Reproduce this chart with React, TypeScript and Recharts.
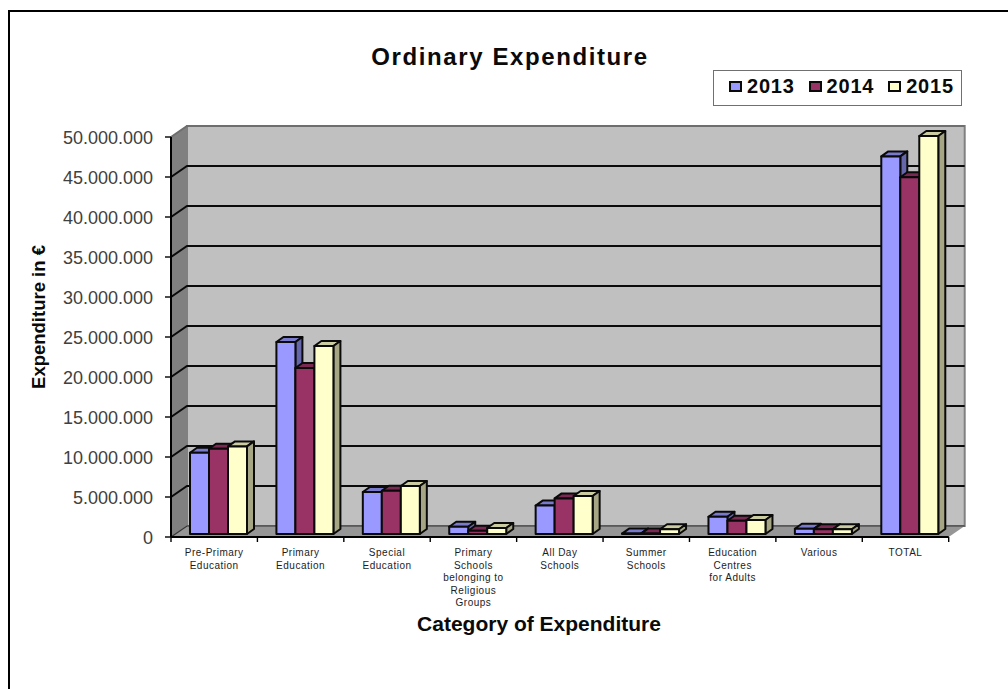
import React from "react";
import {
  BarChart,
  Bar,
  XAxis,
  YAxis,
  CartesianGrid,
  Legend,
} from "recharts";

const categories = [
  ["Pre-Primary", "Education"],
  ["Primary", "Education"],
  ["Special", "Education"],
  ["Primary", "Schools", "belonging to", "Religious", "Groups"],
  ["All Day", "Schools"],
  ["Summer", "Schools"],
  ["Education", "Centres", "for Adults"],
  ["Various"],
  ["TOTAL"],
];
const values2013 = [10150000, 24000000, 5250000, 900000, 3550000, 50000, 2150000, 650000, 47200000];
const values2014 = [10650000, 20750000, 5400000, 400000, 4450000, 50000, 1650000, 600000, 44600000];
const values2015 = [10950000, 23500000, 6000000, 750000, 4750000, 600000, 1750000, 600000, 49750000];
const yTicks = [0, 5000000, 10000000, 15000000, 20000000, 25000000, 30000000, 35000000, 40000000, 45000000, 50000000];

const data = categories.map((lines, i) => ({
  name: lines.join(" "),
  lines,
  y2013: values2013[i],
  y2014: values2014[i],
  y2015: values2015[i],
}));

// depth of the back wall and of the bars, the fake 3D look
const WALL_DX = 16;
const WALL_DY = -11;
const BAR_SHIFT_X = 4.6;
const BAR_SHIFT_Y = -3;
const BAR_DX = 7;
const BAR_DY = -5;
const FONT = "'Liberation Sans', Arial, sans-serif";

const formatDots = (v: number) => String(v).replace(/\B(?=(\d{3})+$)/g, ".");

function Bar3D(topFill: string, sideFill: string) {
  return (props: any) => {
    const x = props.x + BAR_SHIFT_X;
    const y = props.y + BAR_SHIFT_Y;
    const w = props.width;
    const h = props.height;
    const line = { stroke: "#0a0a0a", strokeWidth: 2, strokeLinejoin: "round" as const };
    return (
      <g>
        <polygon
          points={`${x},${y} ${x + BAR_DX},${y + BAR_DY} ${x + w + BAR_DX},${y + BAR_DY} ${x + w},${y}`}
          fill={topFill}
          {...line}
        />
        <polygon
          points={`${x + w},${y} ${x + w + BAR_DX},${y + BAR_DY} ${x + w + BAR_DX},${y + h + BAR_DY} ${x + w},${y + h}`}
          fill={sideFill}
          {...line}
        />
        <rect x={x} y={y} width={w} height={h} fill={props.fill} {...line} />
      </g>
    );
  };
}

// the grid sits under plain children, so the walls are drawn with its first line
function Walls({ x, y, width, height }: any) {
  const r = x + width;
  const b = y + height;
  return (
    <g>
      <rect
        x={x + WALL_DX}
        y={y + WALL_DY}
        width={width}
        height={height}
        fill="#c0c0c0"
        stroke="#808080"
        strokeWidth={2}
      />
      <polygon
        points={`${x},${y} ${x + WALL_DX},${y + WALL_DY} ${x + WALL_DX},${b + WALL_DY} ${x},${b}`}
        fill="#808080"
      />
      <polygon
        points={`${x},${b} ${r},${b} ${r + WALL_DX},${b + WALL_DY} ${x + WALL_DX},${b + WALL_DY}`}
        fill="#969696"
      />
    </g>
  );
}

function GridLine(props: any) {
  const { x1, x2, y1, index, x, y, width, height } = props;
  const isTop = Math.abs(y1 - y) < 1;
  const isBottom = Math.abs(y1 - (y + height)) < 1;
  const color = isTop ? "#6e6e6e" : isBottom ? "#333" : "#0a0a0a";
  return (
    <g key={props.key}>
      {index === 0 && <Walls x={x} y={y} width={width} height={height} />}
      <polyline
        points={`${x1},${y1} ${x1 + WALL_DX},${y1 + WALL_DY} ${x2 + WALL_DX},${y1 + WALL_DY}`}
        fill="none"
        stroke={color}
        strokeWidth={isBottom ? 1.2 : 2}
      />
    </g>
  );
}

function CategoryTick(props: any) {
  const { x, width, payload } = props;
  const y = props.y - 8;
  const band = width / categories.length;
  const lines = categories[payload.index] || [];
  const left = x - band / 2;
  return (
    <g>
      <line x1={left} x2={left} y1={y} y2={y + 5} stroke="#000" strokeWidth={1.4} />
      {payload.index === categories.length - 1 && (
        <line x1={left + band} x2={left + band} y1={y} y2={y + 5} stroke="#000" strokeWidth={1.4} />
      )}
      <text
        x={x}
        y={y + 19}
        textAnchor="middle"
        fontFamily={FONT}
        fontSize={10}
        letterSpacing={0.5}
        fill="#1c1c1c"
      >
        {lines.map((s: string, i: number) => (
          <tspan key={i} x={x} dy={i === 0 ? 0 : 12.6}>
            {s}
          </tspan>
        ))}
      </text>
    </g>
  );
}

function LegendBox({ payload }: any) {
  return (
    <div
      style={{
        boxSizing: "border-box",
        width: 249,
        height: 36,
        background: "#fff",
        border: "1.5px solid #707070",
        position: "relative",
        fontFamily: FONT,
      }}
    >
      {(payload || []).map((p: any, i: number) => (
        <div key={p.value}>
          <div
            style={{
              position: "absolute",
              boxSizing: "border-box",
              left: 15 + i * 79.6,
              top: 10,
              width: 13,
              height: 11,
              background: p.color,
              border: "2px solid #0a0a0a",
            }}
          />
          <div
            style={{
              position: "absolute",
              left: 33 + i * 79.6,
              top: 4,
              fontSize: 20,
              fontWeight: 700,
              lineHeight: "23px",
              letterSpacing: 0.8,
              color: "#0a0a0a",
            }}
          >
            {p.value}
          </div>
        </div>
      ))}
    </div>
  );
}

export default function App() {
  return (
    <div
      style={{
        position: "absolute",
        left: 0,
        top: 0,
        width: 1008,
        height: 689,
        overflow: "hidden",
        background: "#fff",
      }}
    >
      <div style={{ position: "absolute", left: 8, top: 10, width: 2, height: 679, background: "#000" }} />
      <div style={{ position: "absolute", left: 8, top: 10, width: 1000, height: 2, background: "#000" }} />
      <BarChart
        width={1008}
        height={689}
        data={data}
        margin={{ top: 137, right: 59.3, bottom: 52, left: 51 }}
        barCategoryGap={14.4}
        barGap={0}
      >
        <CartesianGrid vertical={false} horizontal={GridLine} horizontalValues={yTicks} />
        <XAxis
          dataKey="name"
          height={100}
          interval={0}
          axisLine={{ stroke: "#000", strokeWidth: 2 }}
          tickLine={false}
          tick={CategoryTick}
        />
        <YAxis
          width={120}
          domain={[0, 50000000]}
          ticks={yTicks}
          interval={0}
          tickFormatter={formatDots}
          axisLine={{ stroke: "#000", strokeWidth: 2 }}
          tickLine={{ stroke: "#000", strokeWidth: 1.4 }}
          tickSize={6}
          tickMargin={12}
          tick={{ fontSize: 18, fontFamily: FONT, fill: "#404040", dy: 1 }}
        />
        <Legend
          layout="vertical"
          align="center"
          verticalAlign="middle"
          wrapperStyle={{ left: 713, top: 70, width: 249, height: 36 }}
          content={<LegendBox />}
        />
        <Bar dataKey="y2013" name="2013" fill="#9999ff" isAnimationActive={false} shape={Bar3D("#7a7acc", "#6666aa")} />
        <Bar dataKey="y2014" name="2014" fill="#993366" isAnimationActive={false} shape={Bar3D("#7a2952", "#662244")} />
        <Bar dataKey="y2015" name="2015" fill="#ffffcc" isAnimationActive={false} shape={Bar3D("#cccca3", "#a6a685")} />
        <text x={510} y={65} textAnchor="middle" fontFamily={FONT} fontSize={24} fontWeight={700} letterSpacing={1.6} fill="#0a0a0a">
          Ordinary Expenditure
        </text>
        <text x={539} y={631} textAnchor="middle" fontFamily={FONT} fontSize={21} fontWeight={700} fill="#0a0a0a">
          Category of Expenditure
        </text>
        <text
          transform="translate(45 317) rotate(-90)"
          textAnchor="middle"
          fontFamily={FONT}
          fontSize={18.5}
          fontWeight={700}
          fill="#0a0a0a"
        >
          Expenditure in €
        </text>
      </BarChart>
    </div>
  );
}
